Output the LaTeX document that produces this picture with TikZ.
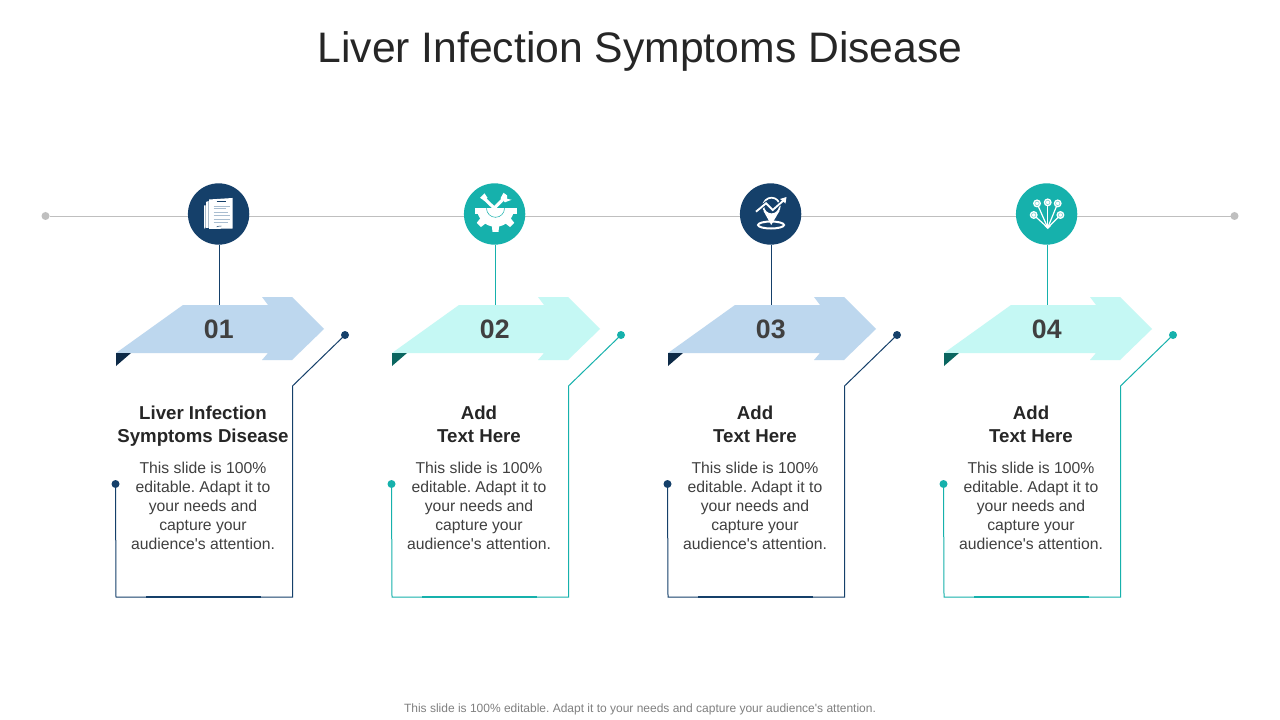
\documentclass[tikz,border=0pt]{standalone}
\usepackage{fontspec}
\setmainfont[Ligatures=TeXOff]{Liberation Sans}
\definecolor{navy}{HTML}{15406A}
\definecolor{teal1}{HTML}{16B1AC}
\definecolor{lblue}{HTML}{BDD7EE}
\definecolor{lteal}{HTML}{C5F8F4}
\definecolor{dnavy}{HTML}{0D2A47}
\definecolor{dteal}{HTML}{0A6660}
\definecolor{rule}{HTML}{BFBFBF}
\definecolor{ink}{HTML}{404040}
\definecolor{titleink}{HTML}{262626}
\definecolor{pagegrey}{HTML}{A9BDD0}
\tikzset{
  x=0.75pt,y=-0.75pt,
  plain/.style={inner sep=0pt,outer sep=0pt},
  enddot/.style={circle,plain,minimum size=6pt,fill=rule},
  tipdot/.style={circle,plain,minimum size=6pt},
  hub/.style={circle,plain,minimum size=46pt},
  link/.style={line width=0.75pt,line join=miter},
  bar/.style={line width=2pt},
  headtext/.style={plain,align=center,font=\fontsize{14}{17.25}\selectfont\bfseries,text=titleink},
  bodytext/.style={plain,align=center,font=\fontsize{11.8}{14.25}\selectfont,text=ink},
  numtext/.style={plain,anchor=base,font=\fontsize{20}{24}\selectfont\bfseries,text=ink},
}
\begin{document}
\frenchspacing
\begin{tikzpicture}
\useasboundingbox (0,0) rectangle (1280,720);
\fill[white] (0,0) rectangle (1280,720);
\node[plain,anchor=base,font=\fontsize{32}{40}\selectfont,text=titleink] (title) at (640,63) {Liver Infection Symptoms Disease};
\node[plain,anchor=base,font=\fontsize{9}{11}\selectfont,text=black!50] (foot) at (640,712) {This slide is 100\% editable. Adapt it to your needs and capture your audience's attention.};
\node[enddot] (lineL) at (45.5,216) {};
\node[enddot] (lineR) at (1234.5,216) {};
\draw[rule,line width=0.6pt] (lineL) -- (lineR);
\foreach \i/\ox/\main/\light/\dark/\head in {
  1/0/navy/lblue/dnavy/{Liver Infection\\Symptoms Disease},
  2/276/teal1/lteal/dteal/{Add\\Text Here},
  3/552/navy/lblue/dnavy/{Add\\Text Here},
  4/828/teal1/lteal/dteal/{Add\\Text Here}}{
\begin{scope}[shift={(\ox,0)}]
  \node[hub,fill=\main] (hub\i) at (218.6,214) {};
  \coordinate (arrowtop\i) at (219.5,305);
  \draw[\main,link] (arrowtop\i |- hub\i.south) -- (arrowtop\i);
  \fill[\light] (116,353) -- (183,305) -- (268,305) -- (262,297) -- (292,297) -- (324,329) -- (292,360) -- (262,360) -- (268,353) -- cycle;
  \fill[\dark] (116,353) -- (131,353) -- (116,366) -- cycle;
  \node[numtext] (num\i) at (218.8,338.5) {0\i};
  \node[tipdot,fill=\main] (tipR\i) at (345,335) {};
  \node[tipdot,fill=\main] (tipL\i) at (115.5,484) {};
  \coordinate (c1\i) at (116,597);
  \coordinate (c2\i) at (292.5,597);
  \coordinate (c3\i) at (292.5,386);
  \coordinate (b1\i) at (146,597);
  \coordinate (b2\i) at (261,597);
  \draw[\main,link] (tipL\i.center) -- (c1\i) -- (c2\i) -- (c3\i) -- (tipR\i.center);
  \draw[\main,bar] (b1\i) -- (b2\i);
  \node[headtext,anchor=north] (head\i) at (203,405.5) {\head};
  \node[bodytext,anchor=north] (body\i) at (203,462.5) {This slide is 100\%\\editable. Adapt it to\\your needs and\\capture your\\audience's attention.};
\end{scope}}
% icon 1: documents
\begin{scope}[shift={(218.5,214)}]
  \fill[white] (-12.5,-12) -- (-10,-13) -- (-10,14) -- (-12.5,14) -- cycle;
  \fill[white] (-14.5,-8.5) -- (-12.9,-8.5) -- (-12.9,13) -- (-13.7,15) -- (-14.5,13) -- cycle;
  \fill[white] (-9.5,-14.5) -- (14,-16) -- (14,14.5) -- (-9.5,15) -- cycle;
  \foreach \y/\a/\b/\c in {-12.5/-2/7/navy,-8/-5/11/pagegrey,-5.5/-5/7/pagegrey,-2/-5/9/pagegrey,1/-5/11/pagegrey,5/-5/11/pagegrey,8/-5/9/pagegrey}
    \draw[\c,line width=0.5pt] (\a,\y) -- (\b,\y);
  \draw[navy,line width=0.35pt] (-2,13) .. controls (0,11) and (1,13) .. (3,12);
\end{scope}
% icon 2: gear and tools
\begin{scope}[shift={(495.5,208.3)}]
  \foreach \r in {45,90,135}
    \fill[white,rotate=-\r] (15,-4) -- (23.5,-3) -- (23.5,3) -- (15,4) -- cycle;
  \fill[white] (18.5,0) arc[start angle=0,end angle=180,radius=18.5] -- cycle;
  \fill[white] (-21,0) -- (21,0) -- (21,5.5) -- (-21,5.5) -- cycle;
  \draw[teal1,line width=0.4pt] (9,0) arc[start angle=0,end angle=180,radius=9];
  \draw[white,line width=2.4pt] (-11,-9.5) -- (0,1);
  \fill[white] (-15.5,-10.5) -- (-11,-15) -- (-8,-10.5) -- (-11,-7.5) -- cycle;
  \draw[white,line width=2.4pt] (7,-8.5) -- (-4,2.5);
  \fill[white] (8,-15.5) -- (5,-10) -- (9.5,-6) -- (16,-8.5) -- (11.5,-9.5) -- (11.5,-13) -- cycle;
\end{scope}
% icon 3: location pin with trend
\begin{scope}[shift={(770.5,214)}]
  \draw[white,line width=1.5pt] (0.5,11) ellipse[x radius=13,y radius=3.5];
  \fill[white] (-7,-3) -- (9,-3) -- (0.7,11) -- cycle;
  \draw[white,line width=1.3pt,fill=navy] (1,-8) circle[radius=8.3];
  \draw[navy,line width=2.8pt,line join=miter] (-14.5,-2.3) -- (-4.5,-10.7) -- (2.2,-4) -- (14,-14.5);
  \draw[white,line width=1.4pt,line join=miter] (-14.5,-2.3) -- (-4.5,-10.7) -- (2.2,-4) -- (13,-13.5);
  \fill[white] (16,-17) -- (15,-10.5) -- (9.5,-15) -- cycle;
\end{scope}
% icon 4: branching options
\begin{scope}[shift={(1046.7,213.7)}]
  \coordinate (root) at (1,14);
  \fill[white] (-2.5,12) -- (4.5,12) -- (1,15.5) -- cycle;
  \foreach \x/\y in {-9.7/-10.3,1/-11.3,11/-10.3,-13/1.3,13.7/1.3}{
    \draw[white,line width=0.9pt] (root) -- (\x,\y);
    \fill[white] (\x,\y) circle[radius=4];
    \draw[teal1!60,line width=0.4pt] (\x,\y) circle[radius=2.2];
  }
\end{scope}
\end{tikzpicture}
\end{document}
